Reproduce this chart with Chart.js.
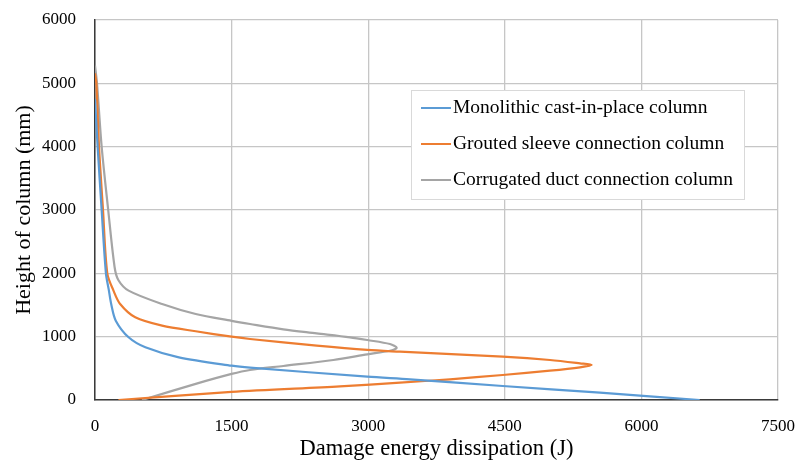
<!DOCTYPE html>
<html>
<head>
<meta charset="utf-8">
<script src="https://cdn.jsdelivr.net/npm/chart.js@4/dist/chart.umd.min.js"></script>
<style>
  html, body { margin: 0; padding: 0; background: #fff; }
  #wrap { width: 795px; height: 465px; }
</style>
</head>
<body>
<div id="wrap"><canvas id="grafico"></canvas></div>
<script>
// energía disipada (J) frente a altura (mm), de abajo hacia arriba
const nombres = [
  "Monolithic cast-in-place column",
  "Grouted sleeve connection column",
  "Corrugated duct connection column",
];
const colores = ["#5b9bd5", "#ed7d31", "#a5a5a5"];

const energiaMonolitica = [6640, 5545, 4477, 3459, 2990, 1702, 1500, 921, 553, 369, 228, 180, 150, 120, 73, 29, 0];
const alturaMonolitica  = [0, 116, 221, 327, 368, 511, 542, 674, 832, 990, 1253, 1500, 1750, 2000, 3000, 4000, 4750];

const energiaManguito = [258, 1500, 2690, 3349, 3898, 4477, 4996, 5326, 5454, 5326, 4996, 4477, 3349, 2990, 2434, 1702, 1500, 1106, 737, 442, 276, 203, 135, 88, 44, 15, 0];
const alturaManguito  = [0, 128, 215, 274, 327, 395, 463, 516, 553, 579, 632, 684, 763, 790, 858, 963, 1000, 1085, 1174, 1306, 1516, 1727, 2000, 3000, 4000, 5000, 5158];

const energiaCorrugado = [516, 1106, 1500, 1702, 2068, 2617, 2990, 3239, 3313, 3239, 2990, 2800, 2434, 2068, 1702, 1500, 1106, 737, 369, 256, 215, 145, 73, 22, 0];
const alturaCorrugado  = [0, 255, 412, 474, 537, 632, 721, 778, 825, 884, 947, 990, 1053, 1116, 1200, 1250, 1358, 1516, 1727, 1895, 2100, 3000, 4000, 5000, 5280];

const ticksX = [0, 1500, 3000, 4500, 6000, 7500];
const ticksY = [0, 1000, 2000, 3000, 4000, 5000, 6000];

const tituloX = "Damage energy dissipation (J)";
const tituloY = "Height of column (mm)";

const fuente = "'Liberation Serif', 'Times New Roman', serif";

function puntos(energia, altura) {
  return energia.map((e, i) => ({ x: e, y: altura[i] }));
}

const series = [
  puntos(energiaMonolitica, alturaMonolitica),
  puntos(energiaManguito, alturaManguito),
  puntos(energiaCorrugado, alturaCorrugado),
];

// leyenda recuadrada dentro del área de trazado
const leyendaInterna = {
  id: "leyendaInterna",
  afterDraw(chart) {
    const ctx = chart.ctx;
    const bx = 411, by = 90, bw = 333, bh = 109;
    ctx.save();
    ctx.fillStyle = "#ffffff";
    ctx.fillRect(bx, by, bw, bh);
    ctx.strokeStyle = "#d9d9d9";
    ctx.lineWidth = 1;
    ctx.strokeRect(bx + 0.5, by + 0.5, bw, bh);
    ctx.font = "19.5px " + fuente;
    ctx.textBaseline = "middle";
    ctx.fillStyle = "#000";
    const filas = [108, 144, 180];
    chart.data.datasets.forEach((ds, i) => {
      const yy = filas[i];
      ctx.strokeStyle = ds.borderColor;
      ctx.lineWidth = 2;
      ctx.beginPath();
      ctx.moveTo(421, yy);
      ctx.lineTo(451, yy);
      ctx.stroke();
      ctx.fillText(ds.label, 453, yy);
    });
    ctx.restore();
  },
};

new Chart(document.getElementById("grafico"), {
  type: "scatter",
  data: {
    datasets: series.map((datos, i) => ({
      label: nombres[i],
      data: datos,
      showLine: true,
      borderColor: colores[i],
      backgroundColor: colores[i],
      borderWidth: 2.2,
      pointRadius: 0,
      tension: 0.3,
    })),
  },
  options: {
    responsive: true,
    maintainAspectRatio: false,
    animation: false,
    layout: { padding: { left: 0, right: 17, top: 20, bottom: 0 } },
    plugins: {
      legend: { display: false },
      tooltip: { enabled: false },
    },
    scales: {
      x: {
        type: "linear",
        min: ticksX[0],
        max: ticksX[ticksX.length - 1],
        afterBuildTicks: (eje) => { eje.ticks = ticksX.map((v) => ({ value: v })); },
        afterFit: (eje) => {
          eje.height = 65;
          eje.paddingLeft = 0;
          eje.paddingRight = 0;
        },
        ticks: { color: "#000", padding: 16, font: { family: fuente, size: 17 }, callback: (v) => String(v) },
        grid: { color: "#c6c6c6", lineWidth: 1.3, drawTicks: false },
        border: { color: "#3a3a3a", width: 1.5 },
        title: {
          display: true,
          text: tituloX,
          color: "#000",
          font: { family: fuente, size: 22.5 },
          padding: { top: 0, bottom: 2 },
        },
      },
      y: {
        type: "linear",
        min: ticksY[0],
        max: ticksY[ticksY.length - 1],
        afterBuildTicks: (eje) => { eje.ticks = ticksY.map((v) => ({ value: v })); },
        afterFit: (eje) => {
          eje.width = 95;
          eje.paddingTop = 0;
          eje.paddingBottom = 0;
        },
        ticks: { color: "#000", padding: 19, font: { family: fuente, size: 17 }, callback: (v) => String(v) },
        grid: { color: "#c6c6c6", lineWidth: 1.3, drawTicks: false },
        border: { color: "#3a3a3a", width: 1.5 },
        title: {
          display: true,
          text: tituloY,
          color: "#000",
          font: { family: fuente, size: 22 },
          padding: { top: 11, bottom: 0 },
        },
      },
    },
  },
  plugins: [leyendaInterna],
});
</script>
</body>
</html>
